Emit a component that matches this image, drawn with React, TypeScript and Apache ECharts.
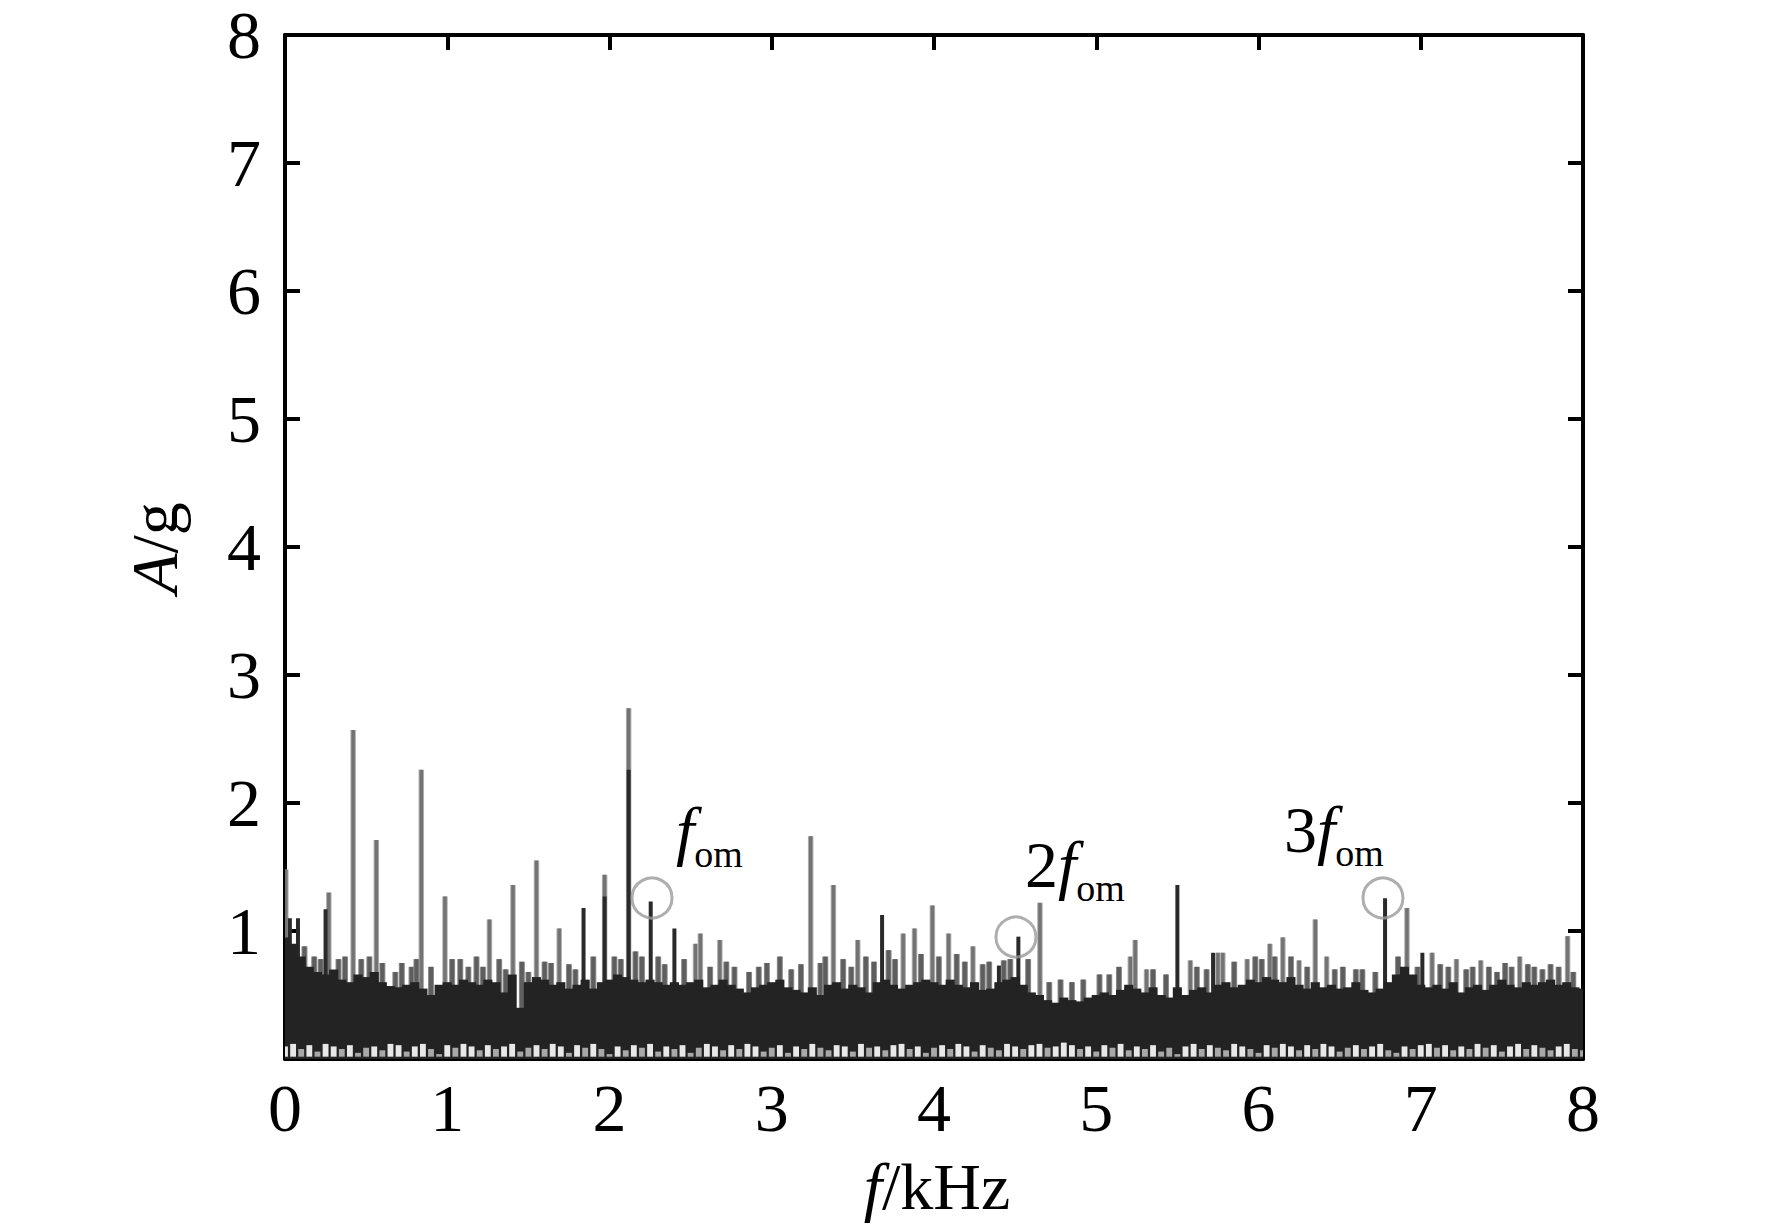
import React, { useEffect, useRef } from 'react';
import * as echarts from 'echarts';

const FONT = 'Liberation Serif, serif';

// frequency axis (kHz) and amplitude axis (g)
const xTicks = [0, 1, 2, 3, 4, 5, 6, 7, 8];
const yTicks = [0, 1, 2, 3, 4, 5, 6, 7, 8];

// dense noise floor: upper edge of the dark band, one value every 0.05 kHz from 0 to 8
const bandStep = 0.05;
const bandTop = [
  0.95, 0.90, 0.80, 0.72, 0.68, 0.66, 0.70, 0.62, 0.60, 0.66,
  0.64, 0.68, 0.60, 0.57, 0.56, 0.58, 0.60, 0.55, 0.50, 0.58,
  0.60, 0.58, 0.62, 0.60, 0.58, 0.62, 0.60, 0.52, 0.66, 0.40,
  0.60, 0.64, 0.62, 0.58, 0.60, 0.55, 0.58, 0.62, 0.55, 0.60,
  0.62, 0.66, 0.64, 0.62, 0.60, 0.62, 0.60, 0.58, 0.60, 0.58,
  0.60, 0.62, 0.56, 0.58, 0.62, 0.58, 0.55, 0.52, 0.56, 0.58,
  0.60, 0.62, 0.56, 0.54, 0.52, 0.56, 0.50, 0.58, 0.60, 0.55,
  0.58, 0.56, 0.52, 0.60, 0.62, 0.58, 0.55, 0.58, 0.60, 0.62,
  0.60, 0.58, 0.62, 0.58, 0.56, 0.60, 0.54, 0.55, 0.60, 0.62,
  0.64, 0.58, 0.52, 0.50, 0.46, 0.44, 0.48, 0.46, 0.45, 0.48,
  0.50, 0.52, 0.50, 0.54, 0.58, 0.55, 0.52, 0.56, 0.50, 0.48,
  0.56, 0.50, 0.54, 0.56, 0.52, 0.58, 0.60, 0.56, 0.58, 0.62,
  0.60, 0.64, 0.62, 0.60, 0.64, 0.58, 0.55, 0.60, 0.56, 0.58,
  0.55, 0.56, 0.60, 0.54, 0.52, 0.55, 0.60, 0.66, 0.72, 0.66,
  0.58, 0.56, 0.58, 0.55, 0.60, 0.52, 0.56, 0.58, 0.54, 0.58,
  0.62, 0.58, 0.56, 0.60, 0.58, 0.60, 0.62, 0.58, 0.60, 0.56,
  0.55,
];

// light gaps just above the baseline, one value every 0.05 kHz
const floorGaps = [
  0.08, 0.10, 0.06, 0.09, 0.04, 0.10, 0.08, 0.06, 0.09, 0.03, 0.07,
  0.08, 0.05, 0.10, 0.09, 0.04, 0.08, 0.10, 0.06, 0.02, 0.09,
  0.07, 0.10, 0.08, 0.05, 0.09, 0.06, 0.08, 0.10, 0.04, 0.07,
  0.09, 0.06, 0.10, 0.08, 0.03, 0.09, 0.07, 0.10, 0.06, 0.02,
  0.08, 0.05, 0.09, 0.07, 0.10, 0.04, 0.08, 0.06, 0.09, 0.03,
  0.07, 0.10, 0.08, 0.05, 0.09, 0.06, 0.10, 0.08, 0.04, 0.07,
  0.09, 0.03, 0.08, 0.06, 0.10, 0.07, 0.05, 0.09, 0.08, 0.04,
  0.10, 0.07, 0.08, 0.05, 0.09, 0.10, 0.06, 0.08, 0.03, 0.07,
  0.09, 0.06, 0.10, 0.08, 0.04, 0.09, 0.07, 0.05, 0.10, 0.08,
  0.06, 0.09, 0.10, 0.07, 0.08, 0.11, 0.09, 0.06, 0.08, 0.04,
  0.09, 0.07, 0.10, 0.05, 0.08, 0.06, 0.09, 0.04, 0.07, 0.02,
  0.08, 0.10, 0.06, 0.09, 0.07, 0.05, 0.10, 0.08, 0.06, 0.03,
  0.09, 0.07, 0.10, 0.08, 0.05, 0.09, 0.06, 0.10, 0.08, 0.04,
  0.07, 0.09, 0.06, 0.08, 0.10, 0.05, 0.03, 0.08, 0.06, 0.09,
  0.10, 0.07, 0.09, 0.05, 0.08, 0.06, 0.10, 0.07, 0.09, 0.04,
  0.08, 0.10, 0.06, 0.09, 0.07, 0.05, 0.08, 0.10, 0.06, 0.05,
];

// medium grey lines poking just above the band  [kHz, g]
const fringeBars = [
  [0.12, 0.88], [0.18, 0.80], [0.22, 0.78], [0.33, 0.78], [0.37, 0.80], [0.47, 0.78],
  [0.52, 0.80], [0.60, 0.75], [0.68, 0.68], [0.72, 0.75], [0.78, 0.72], [0.81, 0.78],
  [0.90, 0.72], [1.03, 0.78], [1.08, 0.78], [1.13, 0.72], [1.18, 0.80], [1.22, 0.72],
  [1.32, 0.78], [1.36, 0.70], [1.46, 0.76], [1.50, 0.68], [1.60, 0.76], [1.64, 0.75],
  [1.75, 0.74], [1.79, 0.70], [1.90, 0.80], [2.03, 0.80], [2.07, 0.78], [2.16, 0.84],
  [2.20, 0.80], [2.30, 0.80], [2.34, 0.74], [2.46, 0.78], [2.62, 0.72], [2.72, 0.76],
  [2.77, 0.72], [2.86, 0.68], [2.92, 0.72], [2.97, 0.75], [3.05, 0.80], [3.12, 0.70],
  [3.18, 0.74], [3.30, 0.75], [3.33, 0.80], [3.44, 0.78], [3.49, 0.72], [3.58, 0.80],
  [3.63, 0.76], [3.72, 0.85], [3.76, 0.78], [3.92, 0.82], [4.03, 0.80], [4.14, 0.82],
  [4.19, 0.76], [4.30, 0.74], [4.34, 0.76], [4.43, 0.77], [4.47, 0.78], [4.58, 0.78],
  [4.71, 0.60], [4.78, 0.62], [4.85, 0.60], [4.92, 0.62], [5.02, 0.66], [5.08, 0.66],
  [5.14, 0.72], [5.35, 0.70], [5.43, 0.66], [5.62, 0.72], [5.68, 0.70], [5.85, 0.76],
  [5.98, 0.80], [6.02, 0.78], [6.10, 0.80], [6.20, 0.80], [6.30, 0.72], [6.47, 0.70],
  [6.52, 0.72], [6.60, 0.70], [6.64, 0.70], [6.72, 0.68], [6.86, 0.80], [6.98, 0.72],
  [7.12, 0.74], [7.17, 0.72], [7.28, 0.70], [7.32, 0.72], [7.42, 0.72], [7.47, 0.68],
  [7.52, 0.75], [7.56, 0.72], [7.66, 0.74], [7.70, 0.72], [7.75, 0.70], [7.80, 0.74],
  [7.85, 0.72], [7.94, 0.68],
];

// tall grey spectral lines  [kHz, g]
const greySpikes = [
  [0.005, 1.48], [0.27, 1.30], [0.42, 2.57], [0.563, 1.71], [0.84, 2.26], [0.986, 1.27],
  [1.26, 1.09], [1.405, 1.36], [1.55, 1.55], [1.69, 1.02], [1.97, 1.44], [2.118, 2.74],
  [2.53, 0.90], [2.56, 0.98], [2.68, 0.93], [3.24, 1.74], [3.38, 1.36], [3.53, 0.93],
  [3.81, 0.98], [3.88, 1.02], [3.99, 1.20], [4.09, 0.98], [4.24, 0.88], [4.653, 1.22],
  [5.21, 0.80], [5.24, 0.93], [5.31, 0.70], [5.58, 0.77], [5.75, 0.83], [5.78, 0.83],
  [5.93, 0.78], [6.07, 0.90], [6.15, 0.95], [6.25, 0.77], [6.35, 1.09], [6.42, 0.80],
  [6.915, 1.18], [7.07, 0.83], [7.22, 0.78], [7.37, 0.77], [7.61, 0.80], [7.905, 0.96],
];

// dark spectral lines  [kHz, g]
const darkSpikes = [
  [0.03, 1.10], [0.08, 1.10], [0.25, 1.17], [1.84, 1.18], [1.97, 1.27], [2.118, 2.26],
  [2.254, 1.23], [2.40, 1.02], [3.68, 1.125], [4.40, 0.73], [4.52, 0.956], [5.50, 1.36],
  [5.72, 0.83], [6.78, 1.255], [7.01, 0.83],
];

// circled characteristic frequencies  [kHz, g]
const harmonicMarks = [[2.262, 1.258], [4.505, 0.953], [6.767, 1.258]];
// text of each mark: prefix, anchor (text origin) in [kHz, g] on its baseline
const harmonicPrefix = ['', '2', '3'];
const harmonicAnchor = [[2.41, 1.609], [4.561, 1.344], [6.157, 1.617]];

function spikeSeries(data: number[][], width: number, fill: string, edge: string | null, z: number) {
  return {
    type: 'custom',
    xAxisIndex: 0,
    yAxisIndex: 0,
    silent: true,
    clip: true,
    z,
    encode: { x: 0, y: 1 },
    data,
    renderItem: (_p: any, api: any) => {
      const k = api.value(0);
      const v = api.value(1);
      const top = api.coord([k, v]);
      const bot = api.coord([k, 0]);
      const children: any[] = [];
      if (edge) {
        children.push({
          type: 'rect',
          shape: { x: top[0] - width / 2 - 1, y: top[1], width: width + 2, height: bot[1] - top[1] },
          style: { fill: edge },
        });
      }
      children.push({
        type: 'rect',
        shape: { x: top[0] - width / 2, y: top[1], width, height: bot[1] - top[1] },
        style: { fill },
      });
      return { type: 'group', children };
    },
  };
}

export default function App() {
  const ref = useRef<HTMLDivElement>(null);

  useEffect(() => {
    if (!ref.current) return;
    const chart = echarts.init(ref.current, null, { renderer: 'svg' });

    const bandData = bandTop.map((v, i) => [i * bandStep, v]);
    const gapData = floorGaps.map((h, i) => [i * bandStep, h]);

    const axisLine = { show: true, onZero: false, lineStyle: { color: '#000', width: 4 } };
    const axisTick = { show: true, inside: true, length: 15, lineStyle: { color: '#000', width: 4 } };
    const tickLabel = { color: '#000', fontSize: 68, fontFamily: FONT };

    const option: any = {
      animation: false,
      backgroundColor: '#ffffff',
      grid: { left: 285, right: 189, top: 35, bottom: 169, containLabel: false },
      xAxis: [
        {
          type: 'value', position: 'bottom', min: xTicks[0], max: xTicks[xTicks.length - 1], interval: 1,
          axisLine, axisTick, splitLine: { show: false },
          axisLabel: { ...tickLabel, margin: 15, showMinLabel: true, showMaxLabel: true, formatter: (v: number) => String(v) },
        },
        {
          type: 'value', position: 'top', min: xTicks[0], max: xTicks[xTicks.length - 1], interval: 1,
          axisLine, axisTick, splitLine: { show: false }, axisLabel: { show: false },
        },
      ],
      yAxis: [
        {
          type: 'value', position: 'left', min: yTicks[0], max: yTicks[yTicks.length - 1], interval: 1,
          axisLine, axisTick, splitLine: { show: false },
          axisLabel: {
            ...tickLabel, margin: 24, lineHeight: 54, showMaxLabel: true,
            formatter: (v: number) => (v === 0 ? '' : String(v)),
          },
        },
        {
          type: 'value', position: 'right', min: yTicks[0], max: yTicks[yTicks.length - 1], interval: 1,
          axisLine, axisTick, splitLine: { show: false }, axisLabel: { show: false },
        },
      ],
      series: [
        spikeSeries(greySpikes, 3.5, '#737373', '#b0b0b0', 1),
        spikeSeries(fringeBars, 4, '#5e5e5e', '#8c8c8c', 2),
        spikeSeries(darkSpikes, 4, '#2a2a2a', null, 3),
        {
          type: 'custom', xAxisIndex: 0, yAxisIndex: 0, silent: true, clip: true, z: 4,
          encode: { x: 0, y: 1 }, data: bandData,
          renderItem: (_p: any, api: any) => {
            const k = api.value(0);
            const v = api.value(1);
            const a = api.coord([k - bandStep / 2, v]);
            const b = api.coord([k + bandStep / 2, 0]);
            return {
              type: 'rect',
              shape: { x: a[0] - 0.5, y: a[1], width: b[0] - a[0] + 1, height: b[1] - a[1] },
              style: { fill: '#232323' },
            };
          },
        },
        {
          type: 'custom', xAxisIndex: 0, yAxisIndex: 0, silent: true, clip: true, z: 5,
          encode: { x: 0, y: 1 }, data: gapData,
          renderItem: (_p: any, api: any) => {
            const k = api.value(0);
            const h = api.value(1);
            const a = api.coord([k - 0.018, 0.018 + h]);
            const b = api.coord([k + 0.018, 0.018]);
            return {
              type: 'rect',
              shape: { x: a[0], y: a[1], width: b[0] - a[0], height: b[1] - a[1] },
              style: { fill: h > 0.07 ? '#e8e8e8' : '#a8a8a8' },
            };
          },
        },
        {
          type: 'scatter', xAxisIndex: 0, yAxisIndex: 0, silent: true, z: 6,
          symbol: 'circle', symbolSize: 40, data: harmonicMarks,
          itemStyle: { color: 'rgba(0,0,0,0)', borderColor: '#9a9a9a', borderWidth: 3 },
        },
      ],
    };

    chart.setOption(option);

    // annotation texts, anchored in data space
    const graphics: any[] = [];
    const digitAdv = 0.5 * 66;
    const fAdv = 0.278 * 66;
    harmonicAnchor.forEach((anc, i) => {
      const p = chart.convertToPixel({ gridIndex: 0 }, anc) as number[];
      const prefix = harmonicPrefix[i];
      let x = p[0];
      const base = p[1];
      if (prefix) {
        graphics.push({
          type: 'text', x, y: base - 22.3, silent: true, z: 10,
          style: { text: prefix, fontSize: 66, fontFamily: FONT, fill: '#000', align: 'left', verticalAlign: 'middle' },
        });
        x += digitAdv * prefix.length;
      }
      graphics.push({
        type: 'text', x, y: base - 22.3, silent: true, z: 10,
        style: { text: 'f', fontSize: 66, fontStyle: 'italic', fontFamily: FONT, fill: '#000', align: 'left', verticalAlign: 'middle' },
      });
      x += fAdv;
      graphics.push({
        type: 'text', x, y: base + 14 - 12.8, silent: true, z: 10,
        style: { text: 'om', fontSize: 38, fontFamily: FONT, fill: '#000', align: 'left', verticalAlign: 'middle' },
      });
    });

    // axis titles
    graphics.push({
      type: 'text', x: 937, y: 1186, silent: true,
      style: {
        text: '{i|f}/kHz', fontSize: 66, fontFamily: FONT, fill: '#000', align: 'center', verticalAlign: 'middle',
        rich: { i: { fontStyle: 'italic', fontSize: 66, fontFamily: FONT, fill: '#000' } },
      },
    });
    graphics.push({
      type: 'text', x: 154, y: 548, rotation: Math.PI / 2, silent: true,
      style: {
        text: '{i|A}/g', fontSize: 66, fontFamily: FONT, fill: '#000', align: 'center', verticalAlign: 'middle',
        rich: { i: { fontStyle: 'italic', fontSize: 66, fontFamily: FONT, fill: '#000' } },
      },
    });

    chart.setOption({ graphic: graphics });

    return () => chart.dispose();
  }, []);

  return (
    <div
      ref={ref}
      style={{ position: 'absolute', left: 0, top: 0, width: 1772, height: 1228, background: '#fff' }}
    />
  );
}
